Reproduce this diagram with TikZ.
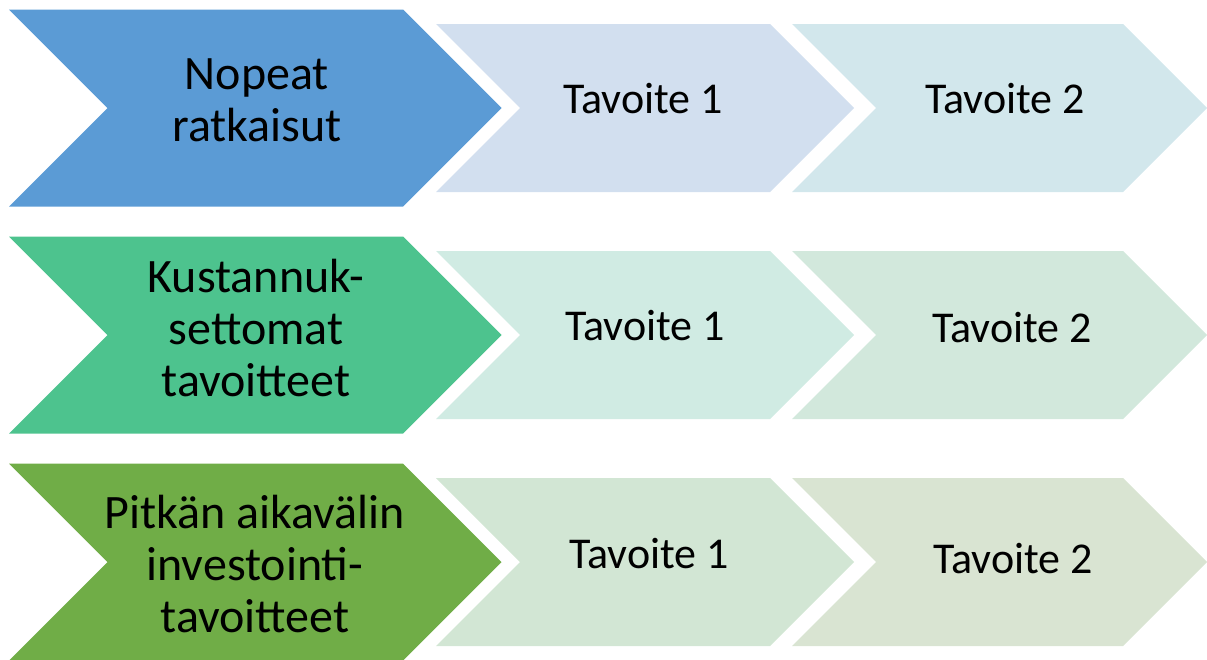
\documentclass[tikz,border=0pt]{standalone}
\usepackage{fontspec}
\setmainfont{Carlito}
\definecolor{bluemain}{HTML}{5B9BD5}
\definecolor{greenmain}{HTML}{4DC38E}
\definecolor{olivemain}{HTML}{70AD47}
\definecolor{blueA}{HTML}{D2DFEF}
\definecolor{blueB}{HTML}{D2E7EC}
\definecolor{greenA}{HTML}{D0EBE3}
\definecolor{greenB}{HTML}{D2E8DC}
\definecolor{oliveA}{HTML}{D2E6D4}
\definecolor{oliveB}{HTML}{D9E4D2}
% chevron: left x, body right x, centre y, half height, fill colour
\newcommand{\chevronshape}[5]{%
  \fill[#5] (#1,#3-#4) -- (#2,#3-#4) -- (#2+#4,#3) -- (#2,#3+#4)
    -- (#1,#3+#4) -- (#1+#4,#3) -- cycle;}
\tikzset{
  headtext/.style={font=\fontsize{48}{52}\selectfont, align=center, inner sep=0pt},
  goaltext/.style={font=\fontsize{44}{48}\selectfont, inner sep=0pt}
}
\begin{document}
\begin{tikzpicture}[x=1pt,y=-1pt]
\useasboundingbox (0,0) rectangle (1207,659);
% row 1
\chevronshape{9}{403}{108}{98.5}{bluemain}
\chevronshape{436}{770}{108}{84}{blueA}
\chevronshape{792}{1123}{108}{84}{blueB}
\node[headtext] (h1) at (257,100) {Nopeat\\ratkaisut};
\node[goaltext] (g11) at (643,99) {Tavoite 1};
\node[goaltext] (g12) at (1005,99) {Tavoite 2};
% row 2
\chevronshape{9}{403}{335}{98.5}{greenmain}
\chevronshape{436}{770}{335}{84}{greenA}
\chevronshape{792}{1123}{335}{84}{greenB}
\node[headtext] (h2) at (256,328) {Kustannuk-\\settomat\\tavoitteet};
\node[goaltext] (g21) at (645,326) {Tavoite 1};
\node[goaltext] (g22) at (1012,328) {Tavoite 2};
% row 3
\chevronshape{9}{403}{562}{98.5}{olivemain}
\chevronshape{436}{770}{562}{84}{oliveA}
\chevronshape{792}{1123}{562}{84}{oliveB}
\node[headtext] (h3) at (255,564) {Pitkän aikavälin\\investointi-\\tavoitteet};
\node[goaltext] (g31) at (649,554) {Tavoite 1};
\node[goaltext] (g32) at (1013,559) {Tavoite 2};
\end{tikzpicture}
\end{document}
